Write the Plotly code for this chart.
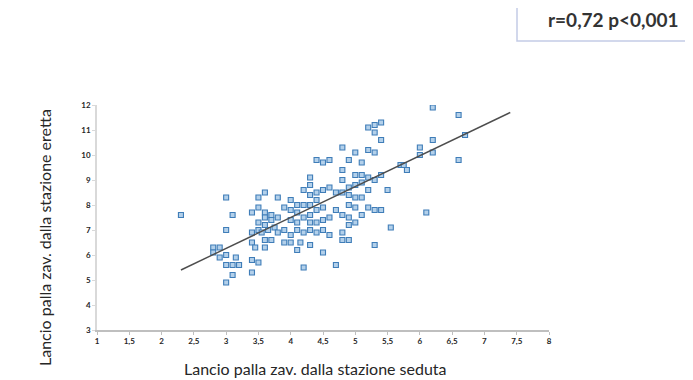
import plotly.graph_objects as go

# Data
seduta = [
    2.3,
    2.8, 2.9, 2.8, 2.9,
    3.0, 3.0, 3.0, 3.0, 3.1, 3.0,
    3.1, 3.1, 3.15,
    3.2,
    3.4, 3.4, 3.4, 3.45, 3.4, 3.4,
    3.5, 3.5, 3.5, 3.5, 3.55, 3.5,
    3.6, 3.6, 3.6, 3.6, 3.65, 3.6, 3.6,
    3.7, 3.7, 3.75, 3.7,
    3.8, 3.8, 3.8,
    3.9, 3.9, 3.9,
    4.0, 4.0, 4.0, 4.0, 4.0,
    4.1, 4.1, 4.1, 4.1, 4.1, 4.15,
    4.2, 4.2, 4.2, 4.2, 4.2,
    4.3, 4.3, 4.3, 4.3, 4.3, 4.3, 4.3, 4.3,
    4.4, 4.4, 4.4, 4.4, 4.4, 4.4,
    4.5, 4.5, 4.5, 4.5, 4.5, 4.5,
    4.6, 4.6, 4.6, 4.6,
    4.7, 4.7, 4.7,
    4.8, 4.8, 4.8, 4.8, 4.8, 4.8, 4.8,
    4.9, 4.9, 4.9, 4.9, 4.9, 4.9, 4.9,
    5.0, 5.0, 5.0, 5.0, 5.0, 5.0,
    5.1, 5.1, 5.1, 5.1, 5.1,
    5.2, 5.2, 5.2, 5.2, 5.2,
    5.3, 5.3, 5.3, 5.3, 5.3, 5.3,
    5.4, 5.4, 5.4, 5.4,
    5.5, 5.55,
    5.7, 5.75, 5.8,
    6.0, 6.0, 6.2,
    6.1,
    6.2, 6.2,
    6.6, 6.6,
    6.7,
]
eretta = [
    7.6,
    6.3, 6.3, 6.1, 5.9,
    8.3, 7.0, 5.6, 4.9, 5.2, 6.0,
    7.6, 5.6, 5.9,
    5.6,
    7.7, 6.9, 6.5, 6.3, 5.8, 5.3,
    8.3, 7.9, 7.3, 7.0, 6.9, 5.7,
    8.5, 7.7, 7.5, 7.2, 7.0, 6.6, 6.3,
    7.6, 7.4, 7.1, 6.6,
    8.3, 7.5, 6.9,
    7.9, 7.0, 6.5,
    8.2, 7.8, 7.4, 6.8, 6.5,
    8.0, 7.7, 7.3, 7.0, 6.2, 6.5,
    8.6, 8.0, 7.5, 6.9, 5.5,
    9.1, 8.8, 8.4, 8.0, 7.6, 7.3, 7.0, 6.4,
    9.8, 8.5, 8.2, 7.8, 7.3, 6.9,
    9.7, 8.6, 7.9, 7.4, 7.0, 6.1,
    9.8, 8.7, 7.5, 6.8,
    8.5, 5.6, 7.8,
    10.3, 9.4, 9.0, 8.5, 7.6, 6.9, 6.6,
    9.8, 8.7, 8.4, 8.0, 7.5, 7.2, 6.6,
    10.1, 9.2, 8.8, 8.3, 7.9, 7.3,
    9.7, 9.2, 8.9, 8.3, 7.6,
    11.1, 10.2, 9.1, 8.6, 7.9,
    11.2, 10.9, 10.1, 9.0, 7.8, 6.4,
    11.3, 10.6, 9.2, 7.8,
    8.6, 7.1,
    9.6, 9.6, 9.4,
    10.3, 10.0, 10.1,
    7.7,
    11.9, 10.6,
    11.6, 9.8,
    10.8,
]

trend_x = [2.3, 7.4]
trend_y = [5.4, 11.7]

x_ticks = [1, 1.5, 2, 2.5, 3, 3.5, 4, 4.5, 5, 5.5, 6, 6.5, 7, 7.5, 8]
x_tick_labels = ["1", "1,5", "2", "2,5", "3", "3,5", "4", "4,5", "5", "5,5",
                 "6", "6,5", "7", "7,5", "8"]
y_ticks = [3, 4, 5, 6, 7, 8, 9, 10, 11, 12]

stat_text = "r=0,72 p<0,001"
x_title = "Lancio palla zav. dalla stazione seduta"
y_title = "Lancio palla zav. dalla stazione eretta"

# page body has an 8px offset; plot area spans 97..549 x 105..330 on screen
OFF = 8
PL, PR, PT, PB = 97, 549, 105, 330
PW, PH = PR - PL, PB - PT


def px(xp):
    return (xp - PL) / PW


def py(yp):
    return (PB - yp) / PH


fig = go.Figure()
fig.add_trace(go.Scatter(
    x=seduta, y=eretta, mode="markers",
    marker=dict(symbol="square", size=5, color="#b3d0ea",
                line=dict(color="#3f7db8", width=1.1)),
    showlegend=False, hoverinfo="skip",
))
fig.add_trace(go.Scatter(
    x=trend_x, y=trend_y, mode="lines",
    line=dict(color="#4d4d4d", width=1.4),
    showlegend=False, hoverinfo="skip",
))

axis_font = dict(family="Lato", size=8, color="#262626", weight="bold")
fig.update_xaxes(range=[1, 8], tickvals=x_ticks, ticktext=x_tick_labels,
                 showgrid=False, zeroline=False, showline=True,
                 linecolor="#bfbfbf", linewidth=1.5, ticks="outside",
                 ticklen=3, tickcolor="#bfbfbf", tickfont=axis_font)
fig.update_yaxes(range=[3, 12], tickvals=y_ticks,
                 showgrid=False, zeroline=False, showline=True,
                 linecolor="#d9d9d9", linewidth=1.5, ticks="outside",
                 ticklen=3, tickcolor="#d9d9d9", tickfont=axis_font)

fig.update_layout(
    width=693 - OFF, height=380 - OFF,
    margin=dict(l=PL - OFF, r=693 - PR, t=PT - OFF, b=380 - PB),
    paper_bgcolor="white", plot_bgcolor="white",
    font=dict(family="Lato"),
    shapes=[dict(type="rect", xref="paper", yref="paper",
                 x0=px(517), x1=px(720), y0=py(41), y1=py(-20),
                 line=dict(color="#c3cbe6", width=1.5), fillcolor="white")],
    annotations=[
        dict(text=stat_text, xref="paper", yref="paper",
             x=px(613), y=py(19), showarrow=False,
             xanchor="center", yanchor="middle",
             font=dict(family="Lato", size=19, color="#333333", weight="bold")),
        dict(text=x_title, xref="paper", yref="paper",
             x=px(315), y=py(368), showarrow=False,
             xanchor="center", yanchor="middle",
             font=dict(family="Lato", size=16, color="#262626")),
        dict(text=y_title, xref="paper", yref="paper",
             x=px(44), y=py(238), showarrow=False,
             textangle=-90, xanchor="center", yanchor="middle",
             font=dict(family="Lato", size=16, color="#262626")),
    ],
)

fig.write_html("out.html")
